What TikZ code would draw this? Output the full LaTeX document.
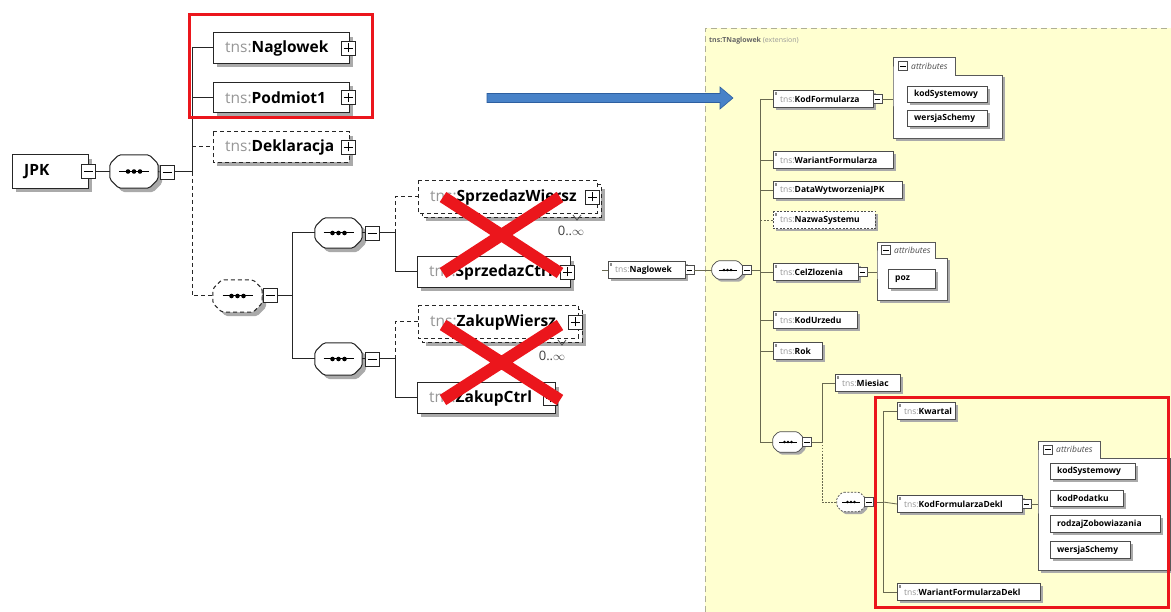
\documentclass[tikz,border=0pt]{standalone}
\usepackage{fontspec}
\setmainfont{Open Sans}
\usetikzlibrary{calc}
\hyphenpenalty=10000
\exhyphenpenalty=10000
\definecolor{tnsgrey}{RGB}{150,150,150}
\definecolor{panelyellow}{RGB}{255,255,208}
\definecolor{panelborder}{RGB}{175,175,150}
\definecolor{rline}{RGB}{105,105,80}
\definecolor{xred}{RGB}{235,22,28}
\definecolor{arrowblue}{RGB}{72,130,200}
\definecolor{arrowedge}{RGB}{45,95,160}
\definecolor{shadowgrey}{RGB}{170,170,170}
\newcommand\lfont{\fontsize{15.5}{18}\selectfont}
\newcommand\rfont{\fontsize{8.5}{10}\selectfont}
\newcommand\tnsp{\textcolor{tnsgrey}{tns:}}
% octagon outline through the anchors of an (invisible) node
\newcommand\octpath[2]{([xshift=#2]#1.north west) -- ([xshift=-#2]#1.north east) -- ([yshift=-#2]#1.north east)
  -- ([yshift=#2]#1.south east) -- ([xshift=-#2]#1.south east) -- ([xshift=#2]#1.south west)
  -- ([yshift=#2]#1.south west) -- ([yshift=-#2]#1.north west) -- cycle}
\newcommand\lOct[2]{%
  \fill[shadowgrey,transform canvas={shift={(4pt,-4pt)}},rounded corners=2pt] \octpath{#1}{9pt};
  \filldraw[fill=white,draw=black!85,line width=1pt,rounded corners=2pt,#2] \octpath{#1}{9pt};
  \draw[line width=1pt] ([xshift=-15pt]#1.center) -- ([xshift=15pt]#1.center);
  \foreach \d in {-6,0,6} \fill[black] ([xshift=\d pt]#1.center) circle (2.3pt);}
\newcommand\rOct[2]{%
  \fill[shadowgrey,transform canvas={shift={(2.5pt,-2.5pt)}},rounded corners=1.5pt] \octpath{#1}{5.5pt};
  \filldraw[fill=white,draw=black!70,line width=0.7pt,rounded corners=1.5pt,#2] \octpath{#1}{5.5pt};
  \draw[line width=0.7pt] ([xshift=-9pt]#1.center) -- ([xshift=9pt]#1.center);
  \foreach \d in {-3.5,0,3.5} \fill[black] ([xshift=\d pt]#1.center) circle (1.3pt);}
% box outline as a closed line path through the node corners, shifted by #2
\newcommand\boxpath[2]{([shift={(#2,-#2)}]#1.north west) -- ([shift={(#2,-#2)}]#1.north east)
  -- ([shift={(#2,-#2)}]#1.south east) -- ([shift={(#2,-#2)}]#1.south west) -- cycle}
\newcommand\lBox[2]{%
  \fill[shadowgrey] \boxpath{#1}{4pt};
  \filldraw[fill=white,draw=black!85,line width=1pt,#2] \boxpath{#1}{0pt};}
\newcommand\rBox[2]{%
  \fill[shadowgrey] \boxpath{#1}{2.5pt};
  \filldraw[fill=white,draw=black!70,line width=0.7pt,#2] \boxpath{#1}{0pt};
  \fill[black!45] ([xshift=1.5pt,yshift=-1.5pt]#1.north west) rectangle ++(2.5pt,-3pt);}
\newcommand\aBox[1]{%
  \fill[shadowgrey] \boxpath{#1}{2.5pt};
  \filldraw[fill=white,draw=black!70,line width=0.7pt] \boxpath{#1}{0pt};}
\begin{document}
\begin{tikzpicture}[x=1pt,y=-1pt,
  ll/.style={draw=black!85,line width=1pt},
  ldash/.style={dash pattern=on 4pt off 3pt},
  rl/.style={draw=rline,line width=0.8pt},
  rdash/.style={dash pattern=on 2pt off 1.5pt},
  octo/.style={inner sep=0pt,draw=none},
  lel/.style={minimum height=30pt,inner xsep=12pt,inner ysep=0pt,anchor=west,align=left,font=\lfont,text width=#1},
  lpm/.style={draw=black!85,fill=white,line width=0.9pt,minimum size=14pt,inner sep=0pt},
  lplus/.style={lpm,path picture={\draw[black,line width=0.9pt]
      ([xshift=-4.5pt]path picture bounding box.center) -- ([xshift=4.5pt]path picture bounding box.center)
      ([yshift=-4.5pt]path picture bounding box.center) -- ([yshift=4.5pt]path picture bounding box.center);}},
  lminus/.style={lpm,path picture={\draw[black,line width=0.9pt]
      ([xshift=-4.5pt]path picture bounding box.center) -- ([xshift=4.5pt]path picture bounding box.center);}},
  rel/.style={minimum height=17pt,inner xsep=7pt,inner ysep=0pt,anchor=west,align=left,font=\rfont,text width=#1},
  rpm/.style={draw=black!70,fill=white,line width=0.6pt,minimum size=9pt,inner sep=0pt},
  rminus/.style={rpm,path picture={\draw[black,line width=0.6pt]
      ([xshift=-2.8pt]path picture bounding box.center) -- ([xshift=2.8pt]path picture bounding box.center);}},
  atb/.style={minimum height=16pt,inner xsep=7pt,inner ysep=0pt,anchor=west,align=left,font=\rfont\bfseries,text width=#1},
  fbody/.style={inner sep=0pt,anchor=north west},
  ftab/.style={fill=white,inner sep=0pt,anchor=south west},
  fline/.style={draw=black!65,line width=0.7pt},
  ftext/.style={anchor=west,inner sep=0pt,font=\rfont\itshape,text=black!70},
  mult/.style={inner sep=0pt,font=\fontsize{13}{15}\selectfont,text=black!75}
]
\useasboundingbox (0,0) rectangle (1171,612);
\fill[white] (0,0) rectangle (1171,612);
\fill[panelyellow] (705,28) rectangle (1171,612);
\draw[panelborder,dash pattern=on 6pt off 4pt,line width=0.8pt] (705,612) -- (705,28) -- (1171,28);
\node[anchor=west,inner sep=0pt,font=\fontsize{7}{8}\selectfont] (plabel) at (709,41)
  {\textcolor{black!60}{\textbf{tns:TNaglowek}} \textcolor{black!40}{(extension)}};

% ---------- left tree (box drawn first, then the text node on top) ----------
\path (12,171.5) node[lel=52pt,minimum height=33pt,font=\lfont\bfseries] (jpk) {\phantom{JPK}};
\lBox{jpk}{}
\node[lel=52pt,minimum height=33pt,font=\lfont\bfseries] (jpkt) at (12,171.5) {JPK};
\node[lminus] (jpkm) at (jpk.east) {};
\node[octo,minimum width=48pt,minimum height=33pt] (seq0) at (134,171.5) {};
\lOct{seq0}{}
\node[lminus] (seq0m) at (167,172) {};
\coordinate (lv0) at (192,172);

\path (213,48) node[lel=112pt] (nag) {};
\lBox{nag}{}
\node[lel=112pt] (nagt) at (213,48) {\tnsp\textbf{Naglowek}};
\node[lplus] (nagp) at ([xshift=-1pt]nag.east) {};
\path (213,97.5) node[lel=112pt] (pod) {};
\lBox{pod}{}
\node[lel=112pt] (podt) at (213,97.5) {\tnsp\textbf{Podmiot1}};
\node[lplus] (podp) at ([xshift=-1pt]pod.east) {};
\path (213,147) node[lel=112pt] (dek) {};
\lBox{dek}{ldash}
\node[lel=112pt] (dekt) at (213,147) {\tnsp\textbf{Deklaracja}};
\node[lplus] (dekp) at ([xshift=-1pt]dek.east) {};

\node[octo,minimum width=49pt,minimum height=32pt] (oseq) at (237.5,296) {};
\lOct{oseq}{ldash}
\node[lminus] (oseqm) at (270,295.5) {};
\coordinate (lv1) at (292,295.5);

\node[octo,minimum width=47pt,minimum height=30pt] (seqA) at (338.5,233) {};
\lOct{seqA}{}
\node[lminus] (seqAm) at (372,233) {};
\coordinate (lv2) at (395,233);
\node[octo,minimum width=47pt,minimum height=32pt] (seqB) at (338.5,359) {};
\lOct{seqB}{}
\node[lminus] (seqBm) at (372,359) {};
\coordinate (lv3) at (395,359);

\path (422,201) node[lel=155pt,minimum height=32pt] (sprWg) {};
\lBox{sprWg}{ldash}
\path (418,197) node[lel=155pt,minimum height=32pt] (sprW) {};
\filldraw[fill=white,draw=black!85,line width=1pt,ldash] \boxpath{sprW}{0pt};
\node[lel=155pt,minimum height=32pt] (sprWt) at (418,197) {\tnsp\textbf{SprzedazWiersz}};
\node[lplus] (sprWp) at ([xshift=-5pt]sprW.east) {};
\draw[black!70,line width=0.8pt] (573,215) -- (577,220) -- (581,215);
\node[mult] (sprWmult) at (571,231) {0..$\infty$};
\path (417,272) node[lel=129pt] (sprC) {};
\lBox{sprC}{}
\node[lel=129pt] (sprCt) at (417,272) {\tnsp\textbf{SprzedazCtrl}};
\node[lplus] (sprCp) at ([xshift=-3pt]sprC.east) {};

\path (422,326) node[lel=136pt,minimum height=32pt] (zakWg) {};
\lBox{zakWg}{ldash}
\path (418,322) node[lel=136pt,minimum height=32pt] (zakW) {};
\filldraw[fill=white,draw=black!85,line width=1pt,ldash] \boxpath{zakW}{0pt};
\node[lel=136pt,minimum height=32pt] (zakWt) at (418,322) {\tnsp\textbf{ZakupWiersz}};
\node[lplus] (zakWp) at ([xshift=-3pt]zakW.east) {};
\draw[black!70,line width=0.8pt] (558,340) -- (562,345) -- (566,340);
\node[mult] (zakWmult) at (552,356) {0..$\infty$};
\path (417,398) node[lel=114pt] (zakC) {};
\lBox{zakC}{}
\node[lel=114pt] (zakCt) at (417,398) {\tnsp\textbf{ZakupCtrl}};
\node[lplus] (zakCp) at ([xshift=-5pt]zakC.east) {};

% left connectors
\draw[ll] (jpkm.east) -- (seq0.west);
\draw[ll] (seq0.east) -- (seq0m.west);
\draw[ll] (seq0m.east) -- (lv0);
\draw[ll,ldash] (lv0) |- (oseq.west);
\draw[ll,ldash] (lv0 |- dek.west) -- (dek.west);
\draw[ll] (lv0) |- (nag.west);
\draw[ll] (lv0 |- pod.west) -- (pod.west);
\draw[ll] (oseq.east) -- (oseqm.west);
\draw[ll] (oseqm.east) -- (lv1);
\draw[ll] (lv1) |- (seqA.west);
\draw[ll] (lv1) |- (seqB.west);
\draw[ll] (seqA.east) -- (seqAm.west);
\draw[ll] (seqAm.east) -- (lv2);
\draw[ll,ldash] (lv2) |- (sprW.west);
\draw[ll] (lv2) |- (sprC.west);
\draw[ll] (seqB.east) -- (seqBm.west);
\draw[ll] (seqBm.east) -- (lv3);
\draw[ll,ldash] (lv3) |- (zakW.west);
\draw[ll] (lv3) |- (zakC.west);

% red marks left
\draw[xred,line width=3pt] (189,15) rectangle (372,118);
\draw[xred,line width=12pt] (443,197) -- (560,273) (560,197) -- (443,273);
\draw[xred,line width=12pt] (443,325) -- (560,400) (560,325) -- (443,400);

% blue arrow
\filldraw[fill=arrowblue,draw=arrowedge,line width=0.6pt]
  (487,93.5) -- (720,93.5) -- (720,87) -- (733,98) -- (720,109) -- (720,102.5) -- (487,102.5) -- cycle;

% ---------- right tree ----------
\coordinate (rin) at (602,270);
\path (608,270) node[rel=63pt] (rnag) {};
\rBox{rnag}{}
\node[rel=63pt] (rnagt) at (608,270) {\tnsp\textbf{Naglowek}};
\node[rminus] (rnagm) at ([xshift=4pt]rnag.east) {};
\node[octo,minimum width=31pt,minimum height=18pt] (rs1) at (727.5,270) {};
\rOct{rs1}{}
\node[rminus] (rs1m) at (747,270) {};
\coordinate (rv) at (760,270);

\path (773,99) node[rel=86pt] (kodf) {};
\rBox{kodf}{}
\node[rel=86pt] (kodft) at (773,99) {\tnsp\textbf{KodFormularza}};
\node[rminus] (kodfm) at ([xshift=4pt]kodf.east) {};
\path (773,160) node[rel=106pt] (wariant) {};
\rBox{wariant}{}
\node[rel=106pt] (wariantt) at (773,160) {\tnsp\textbf{WariantFormularza}};
\path (773,190) node[rel=115pt] (data) {};
\rBox{data}{}
\node[rel=115pt] (datat) at (773,190) {\tnsp\textbf{DataWytworzeniaJPK}};
\path (773,220) node[rel=88pt] (nazwa) {};
\rBox{nazwa}{rdash}
\node[rel=88pt] (nazwat) at (773,220) {\tnsp\textbf{NazwaSystemu}};
\path (773,272) node[rel=71pt] (cel) {};
\rBox{cel}{}
\node[rel=71pt] (celt) at (773,272) {\tnsp\textbf{CelZlozenia}};
\node[rminus] (celm) at ([xshift=4pt]cel.east) {};
\path (773,320) node[rel=70pt] (kodu) {};
\rBox{kodu}{}
\node[rel=70pt] (kodut) at (773,320) {\tnsp\textbf{KodUrzedu}};
\path (773,351) node[rel=35pt] (rok) {};
\rBox{rok}{}
\node[rel=35pt] (rokt) at (773,351) {\tnsp\textbf{Rok}};
\node[octo,minimum width=30pt,minimum height=20pt] (rs2) at (788,442) {};
\rOct{rs2}{}
\node[rminus] (rs2m) at (807,442) {};
\coordinate (rv2) at (822,442);
\path (835,383) node[rel=51pt] (mies) {};
\rBox{mies}{}
\node[rel=51pt] (miest) at (835,383) {\tnsp\textbf{Miesiac}};
\node[octo,minimum width=28pt,minimum height=19pt] (rs3) at (851,502) {};
\rOct{rs3}{rdash}
\node[rminus] (rs3m) at (869,502) {};
\coordinate (rv3) at (883,502);
\path (897,411) node[rel=44pt] (kwar) {};
\rBox{kwar}{}
\node[rel=44pt] (kwart) at (897,411) {\tnsp\textbf{Kwartal}};
\path (897,504) node[rel=111pt] (kfd) {};
\rBox{kfd}{}
\node[rel=111pt] (kfdt) at (897,504) {\tnsp\textbf{KodFormularzaDekl}};
\node[rminus] (kfdm) at ([xshift=4pt]kfd.east) {};
\path (897,592) node[rel=129pt] (wfd) {};
\rBox{wfd}{}
\node[rel=129pt] (wfdt) at (897,592) {\tnsp\textbf{WariantFormularzaDekl}};

% attribute groups (folder shapes)
\node[fbody,minimum width=109pt,minimum height=63pt] (a1b) at (893,75) {};
\fill[shadowgrey] \boxpath{a1b}{2.5pt};
\fill[white] \boxpath{a1b}{0pt};
\node[ftab,minimum width=62pt,minimum height=17pt] (a1t) at (a1b.north west) {};
\draw[fline] (a1t.south west) -- (a1t.north west) -- (a1t.north east) -- (a1t.south east)
  -- (a1b.north east) -- (a1b.south east) -- (a1b.south west) -- cycle;
\node[rminus] (a1tm) at ([xshift=10pt]a1t.west) {};
\node[ftext] (a1tl) at ([xshift=18pt]a1t.west) {attributes};
\path (907,94.5) node[atb=66pt] (ks1) {};
\aBox{ks1}
\node[atb=66pt] (ks1t) at (907,94.5) {kodSystemowy};
\path (907,118.5) node[atb=66pt] (ws1) {};
\aBox{ws1}
\node[atb=66pt] (ws1t) at (907,118.5) {wersjaSchemy};

\node[fbody,minimum width=70pt,minimum height=42pt] (a2b) at (877,258) {};
\fill[shadowgrey] \boxpath{a2b}{2.5pt};
\fill[white] \boxpath{a2b}{0pt};
\node[ftab,minimum width=58pt,minimum height=15pt] (a2t) at (a2b.north west) {};
\draw[fline] (a2t.south west) -- (a2t.north west) -- (a2t.north east) -- (a2t.south east)
  -- (a2b.north east) -- (a2b.south east) -- (a2b.south west) -- cycle;
\node[rminus] (a2tm) at ([xshift=9pt]a2t.west) {};
\node[ftext] (a2tl) at ([xshift=17pt]a2t.west) {attributes};
\path (888,279) node[atb=33pt,minimum height=18pt] (poz) {};
\aBox{poz}
\node[atb=33pt,minimum height=18pt] (pozt) at (888,279) {poz};

\node[fbody,minimum width=132pt,minimum height=112pt] (a3b) at (1038,458) {};
\fill[shadowgrey] \boxpath{a3b}{2.5pt};
\fill[white] \boxpath{a3b}{0pt};
\node[ftab,minimum width=62pt,minimum height=16pt] (a3t) at (a3b.north west) {};
\draw[fline] (a3t.south west) -- (a3t.north west) -- (a3t.north east) -- (a3t.south east)
  -- (a3b.north east) -- (a3b.south east) -- (a3b.south west) -- cycle;
\node[rminus] (a3tm) at ([xshift=10pt]a3t.west) {};
\node[ftext] (a3tl) at ([xshift=18pt]a3t.west) {attributes};
\path (1050,471.5) node[atb=71pt] (ks3) {};
\aBox{ks3}
\node[atb=71pt] (ks3t) at (1050,471.5) {kodSystemowy};
\path (1050,498.5) node[atb=59pt] (kp3) {};
\aBox{kp3}
\node[atb=59pt] (kp3t) at (1050,498.5) {kodPodatku};
\path (1050,524) node[atb=96pt] (rz3) {};
\aBox{rz3}
\node[atb=96pt] (rz3t) at (1050,524) {rodzajZobowiazania};
\path (1050,550) node[atb=66pt] (ws3) {};
\aBox{ws3}
\node[atb=66pt] (ws3t) at (1050,550) {wersjaSchemy};

% right connectors
\draw[rl] (rin) -- (rnag.west);
\draw[rl] (rnagm.east) -- (rs1.west);
\draw[rl] (rs1.east) -- (rs1m.west);
\draw[rl] (rs1m.east) -- (rv);
\draw[rl] (rv |- kodf.west) |- (rs2.west);
\draw[rl] (rv |- kodf.west) -- (kodf.west);
\draw[rl] (rv |- wariant.west) -- (wariant.west);
\draw[rl] (rv |- data.west) -- (data.west);
\draw[rl,rdash] (rv |- nazwa.west) -- (nazwa.west);
\draw[rl] (rv |- cel.west) -- (cel.west);
\draw[rl] (rv |- kodu.west) -- (kodu.west);
\draw[rl] (rv |- rok.west) -- (rok.west);
\draw[rl] (kodfm.east) -- (kodfm.east -| a1b.west);
\draw[rl] (celm.east) -- (celm.east -| a2b.west);
\draw[rl] (rs2.east) -- (rs2m.west);
\draw[rl] (rs2m.east) -- (rv2);
\draw[rl] (rv2) |- (mies.west);
\draw[rl,dash pattern=on 1.5pt off 1.5pt] (rv2) |- (rs3.west);
\draw[rl] (rs3.east) -- (rs3m.west);
\draw[rl] (rs3m.east) -- (rv3);
\draw[rl] (rv3) |- (kwar.west);
\draw[rl] (rv3) |- (wfd.west);
\draw[rl] (rv3) -- (kfd.west);
\draw[rl] (kfdm.east) -- (kfdm.east -| a3b.west);

% red box right
\draw[xred,line width=3pt] (875,398) rectangle (1168,607);
\end{tikzpicture}
\end{document}
